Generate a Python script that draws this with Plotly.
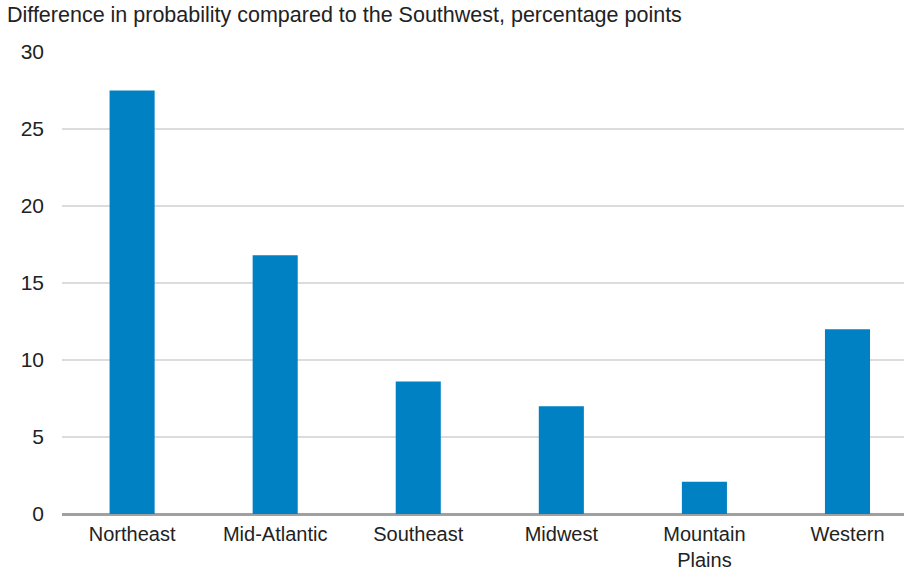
import plotly.graph_objects as go

categories = ["Northeast", "Mid-Atlantic", "Southeast", "Midwest", "Mountain<br>Plains", "Western"]
values = [27.5, 16.8, 8.6, 7.0, 2.1, 12.0]
y_ticks = [0, 5, 10, 15, 20, 25, 30]
title = "Difference in probability compared to the Southwest, percentage points"

fig = go.Figure(go.Bar(
    x=list(range(len(categories))), y=values,
    marker=dict(color="#0081C4", line=dict(width=0)),
    width=0.315,
))

font = "Liberation Sans, Arial, sans-serif"
fig.update_layout(
    width=904, height=571,
    margin=dict(l=62, r=0, t=52, b=57),
    plot_bgcolor="white", paper_bgcolor="white",
    showlegend=False,
    font=dict(family=font, size=20, color="#222"),
    xaxis=dict(
        tickmode="array", tickvals=list(range(len(categories))), ticktext=categories,
        range=[-0.49, 5.395], showgrid=False, zeroline=False,
        showline=False, ticks="", ticklabelstandoff=6, tickfont=dict(size=20, color="#222"),
    ),
    yaxis=dict(
        range=[0, 30], tickvals=y_ticks, showgrid=True, gridcolor="#dcdcdc", gridwidth=1.5,
        zeroline=True, zerolinecolor="#a0a0a0", zerolinewidth=2.5,
        ticks="", ticklabelstandoff=17, tickfont=dict(size=21, color="#222"),
    ),
    annotations=[dict(
        text=title, xref="paper", yref="paper", x=-57/842, y=1, xanchor="left", yanchor="bottom",
        yshift=23, showarrow=False, font=dict(size=21.5, color="#222", family=font),
    )],
)

fig.write_html("out.html")
